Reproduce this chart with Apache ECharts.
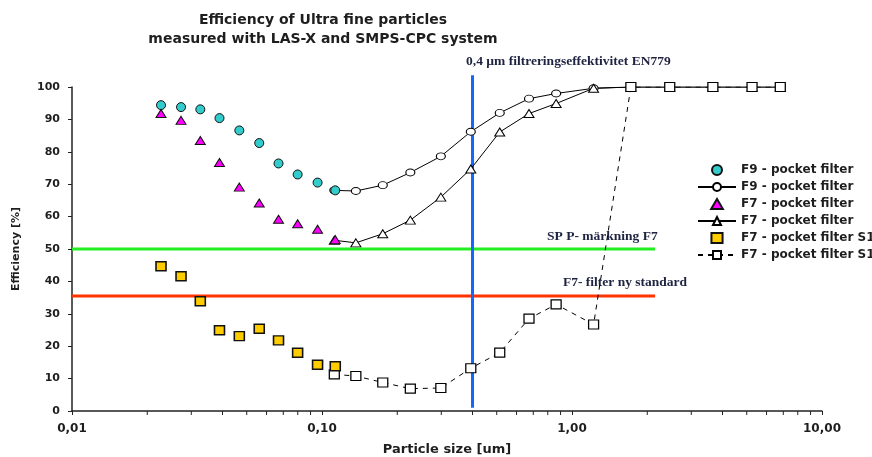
<!DOCTYPE html>
<html>
<head>
<meta charset="utf-8">
<script src="https://cdn.jsdelivr.net/npm/echarts@6/dist/echarts.min.js"></script>
<style>
html,body{margin:0;padding:0;background:#fff;}
#chart{width:872px;height:457px;}
</style>
</head>
<body>
<div id="chart"></div>
<script>
// ---- data ----
const lasSizes  = [0.0227, 0.0273, 0.0326, 0.0389, 0.0467, 0.0561, 0.067, 0.0799, 0.096, 0.113];
const f9Las     = [94.4, 93.8, 93.1, 90.4, 86.6, 82.7, 76.4, 73.0, 70.5, 68.1];
const f7Las     = [91.8, 89.7, 83.5, 76.7, 69.1, 64.2, 59.2, 57.8, 56.1, 52.9];
const f7S1Las   = [44.7, 41.6, 33.9, 24.9, 23.1, 25.4, 21.8, 18.0, 14.3, 13.8];

const smpsSizes = [0.112, 0.1366, 0.175, 0.2256, 0.2988, 0.3937, 0.514, 0.673, 0.864, 1.22, 1.72, 2.46, 3.66, 5.25, 6.81];
const f9Smps    = [68.1, 67.9, 69.7, 73.6, 78.6, 86.2, 92.0, 96.4, 98.0, 99.6, 100, 100, 100, 100, 100];
const f7Smps    = [52.7, 51.9, 54.7, 58.9, 66.0, 74.7, 86.1, 91.8, 94.9, 99.6, 100, 100, 100, 100, 100];
const f7S1Smps  = [11.3, 10.8, 8.8, 6.9, 7.1, 13.2, 18.0, 28.5, 32.9, 26.7, 100, 100, 100, 100, 100];

const en779Size = 0.4;          // vertical reference line (µm)
const en779Span = [1, 103.6];   // its extent in %
const spLevel = 50;             // SP P-märkning F7
const f7StdLevel = 35.5;        // F7 filter ny standard
const refLineRange = [0.01, 2.15];

const minorTicks = [0.02,0.03,0.04,0.05,0.06,0.07,0.08,0.09,
                    0.2,0.3,0.4,0.5,0.6,0.7,0.8,0.9,
                    2,3,4,5,6,7,8,9];

const legendNames = {
  f9s: 'F9 - pocket filter', f9l: 'F9 - pocket filter',
  f7s: 'F7 - pocket filter', f7l: 'F7 - pocket filter',
  s1s: 'F7 - pocket filter S1', s1l: 'F7 - pocket filter S1'
};

const pair = (xs, ys) => xs.map((x, i) => [x, ys[i]]);

const chart = echarts.init(document.getElementById('chart'));
const txt = '#1e1e1e';
const sans = 'DejaVu Sans';
const serifAnno = {fontFamily: 'Liberation Serif', fontWeight: 'bold', fontSize: 13.5, fill: '#1d2340'};

chart.setOption({
  animation: false,
  backgroundColor: '#fff',
  title: {
    text: 'Efficiency of Ultra fine particles\nmeasured with LAS-X and SMPS-CPC system',
    left: 318, top: 6, textAlign: 'center',
    textStyle: {fontFamily: sans, fontWeight: 'bold', fontSize: 14, lineHeight: 19, color: txt}
  },
  grid: {left: 72, right: 50, top: 87, bottom: 46, outerBoundsMode: 'none', containLabel: false},
  legend: {
    orient: 'vertical', left: 692, top: 159,
    itemWidth: 38, itemHeight: 10, itemGap: 5,
    data: [
      {name: 'f9s'},
      {name: 'f9l'},
      {name: 'f7s', icon: 'path://M5,0L10,8.5L0,8.5Z'},
      {name: 'f7l'},
      {name: 's1s', icon: 'path://M0,0H10V9H0Z'},
      {name: 's1l'}
    ],
    formatter: n => legendNames[n],
    textStyle: {fontFamily: sans, fontWeight: 'bold', fontSize: 12, color: txt}
  },
  xAxis: {
    type: 'log', logBase: 10, min: 0.01, max: 10,
    name: 'Particle size [um]', nameLocation: 'middle', nameGap: 32,
    nameTextStyle: {fontFamily: sans, fontWeight: 'bold', fontSize: 13, color: txt},
    axisLine: {lineStyle: {color: '#222', width: 1.5}},
    axisTick: {inside: false, length: 4, lineStyle: {color: '#222'}},
    axisLabel: {margin: 12, fontFamily: sans, fontWeight: 'bold', fontSize: 12, color: txt,
      formatter: v => v.toFixed(2).replace('.', ',')},
    splitLine: {show: false}
  },
  yAxis: {
    type: 'value', min: 0, max: 100, interval: 10,
    name: 'Efficiency [%]', nameLocation: 'middle', nameGap: 50, nameRotate: 90,
    nameTextStyle: {fontFamily: sans, fontWeight: 'bold', fontSize: 11, color: txt},
    axisLine: {show: true, lineStyle: {color: '#222', width: 1.5}},
    axisTick: {show: true, inside: false, length: 4, lineStyle: {color: '#222'}},
    axisLabel: {margin: 12, fontFamily: sans, fontWeight: 'bold', fontSize: 11, color: txt},
    splitLine: {show: false}
  },
  graphic: [
    {type: 'text', left: 466, top: 55, style: Object.assign({text: '0,4 µm filtreringseffektivitet EN779'}, serifAnno)},
    {type: 'text', left: 547, top: 230, style: Object.assign({text: 'SP P- märkning F7'}, serifAnno)},
    {type: 'text', left: 563, top: 276, style: Object.assign({text: 'F7- filter ny standard'}, serifAnno)}
  ],
  series: [
    {name: 'minor', type: 'custom', silent: true, clip: false, z: 1,
     data: minorTicks.map(v => [v, 0]),
     renderItem: (p, api) => {
       const c = api.coord([api.value(0), 0]);
       return {type: 'line', shape: {x1: c[0], y1: c[1], x2: c[0], y2: c[1] + 4},
               style: {stroke: '#222', lineWidth: 1}};
     }},
    {name: 'sp', type: 'line', symbol: 'none', silent: true, z: 1,
     data: refLineRange.map(x => [x, spLevel]),
     lineStyle: {color: '#22ee22', width: 3}},
    {name: 'std', type: 'line', symbol: 'none', silent: true, z: 1,
     data: refLineRange.map(x => [x, f7StdLevel]),
     lineStyle: {color: '#ff3300', width: 3}},
    {name: 'en779', type: 'line', symbol: 'none', silent: true, z: 1, clip: false,
     data: en779Span.map(y => [en779Size, y]),
     lineStyle: {color: '#1466ff', width: 3}},

    {name: 'f9l', type: 'line', z: 3, data: pair(smpsSizes, f9Smps),
     symbol: 'circle', symbolSize: [9, 7], showAllSymbol: true,
     lineStyle: {color: '#000', width: 1},
     itemStyle: {color: '#fff', borderColor: '#000', borderWidth: 1}},
    {name: 'f7l', type: 'line', z: 3, data: pair(smpsSizes, f7Smps),
     symbol: 'triangle', symbolSize: [10, 8], showAllSymbol: true,
     lineStyle: {color: '#000', width: 1},
     itemStyle: {color: '#fff', borderColor: '#000', borderWidth: 1}},
    {name: 's1l', type: 'line', z: 3, data: pair(smpsSizes, f7S1Smps),
     symbol: 'rect', symbolSize: [10, 9], showAllSymbol: true,
     lineStyle: {color: '#000', width: 1, type: [5, 5]},
     itemStyle: {color: '#fff', borderColor: '#000', borderWidth: 1.2}},

    {name: 'f9s', type: 'scatter', z: 4, data: pair(lasSizes, f9Las),
     symbol: 'circle', symbolSize: 9,
     itemStyle: {color: '#33cccc', borderColor: '#111', borderWidth: 1, opacity: 1}},
    {name: 'f7s', type: 'scatter', z: 4, data: pair(lasSizes, f7Las),
     symbol: 'triangle', symbolSize: [10, 8],
     itemStyle: {color: '#ff00ff', borderColor: '#111', borderWidth: 1, opacity: 1}},
    {name: 's1s', type: 'scatter', z: 4, data: pair(lasSizes, f7S1Las),
     symbol: 'rect', symbolSize: [10, 9],
     itemStyle: {color: '#ffcc00', borderColor: '#111', borderWidth: 1.5, opacity: 1}}
  ]
});
</script>
</body>
</html>
